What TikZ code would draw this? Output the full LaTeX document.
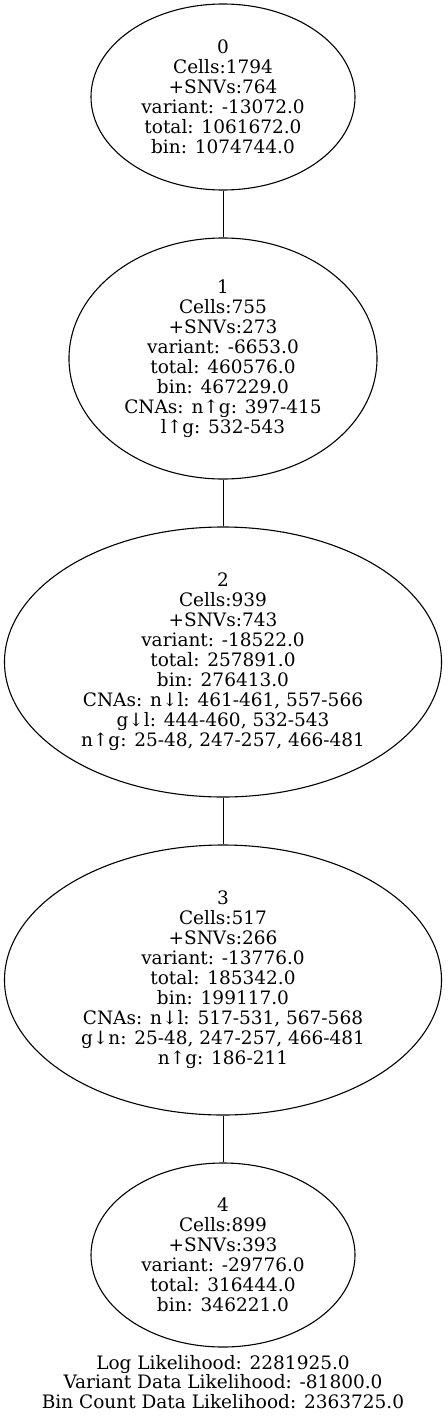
\documentclass[tikz,border=0pt]{standalone}
\usepackage{fontspec}
\setmainfont{DejaVu Serif}
\usetikzlibrary{shapes.geometric}
\begin{document}
\begin{tikzpicture}[x=1pt,y=-1pt,
  treenode/.style={draw,ellipse,line width=1.1pt,inner sep=0pt,align=center,
    font=\fontsize{18.5}{20}\selectfont},
  edgeline/.style={draw,line width=0.8pt},
  footer/.style={align=center,inner sep=0pt,font=\fontsize{18.5}{19.5}\selectfont}]
\useasboundingbox (0,0) rectangle (447,1418);
\node[treenode,minimum width=264pt,minimum height=186pt] (n0) at (223,97)
 {0\\Cells:1794\\+SNVs:764\\variant: -13072.0\\total: 1061672.0\\bin: 1074744.0};
\node[treenode,minimum width=308pt,minimum height=241pt] (n1) at (223,358.5)
 {1\\Cells:755\\+SNVs:273\\variant: -6653.0\\total: 460576.0\\bin: 467229.0\\CNAs: n↑g: 397-415\\l↑g: 532-543};
\node[treenode,minimum width=437pt,minimum height=270pt] (n2) at (223,662)
 {2\\Cells:939\\+SNVs:743\\variant: -18522.0\\total: 257891.0\\bin: 276413.0\\CNAs: n↓l: 461-461, 557-566\\g↓l: 444-460, 532-543\\n↑g: 25-48, 247-257, 466-481};
\node[treenode,minimum width=437pt,minimum height=270pt] (n3) at (223,980)
 {3\\Cells:517\\+SNVs:266\\variant: -13776.0\\total: 185342.0\\bin: 199117.0\\CNAs: n↓l: 517-531, 567-568\\g↓n: 25-48, 247-257, 466-481\\n↑g: 186-211};
\node[treenode,minimum width=264pt,minimum height=184pt] (n4) at (223,1255)
 {4\\Cells:899\\+SNVs:393\\variant: -29776.0\\total: 316444.0\\bin: 346221.0};
\node[footer] (lik) at (223,1382)
 {Log Likelihood: 2281925.0\\Variant Data Likelihood: -81800.0\\Bin Count Data Likelihood: 2363725.0};
\path[edgeline] (n0.south) -- (n1.north);
\path[edgeline] (n1.south) -- (n2.north);
\path[edgeline] (n2.south) -- (n3.north);
\path[edgeline] (n3.south) -- (n4.north);
\end{tikzpicture}
\end{document}
